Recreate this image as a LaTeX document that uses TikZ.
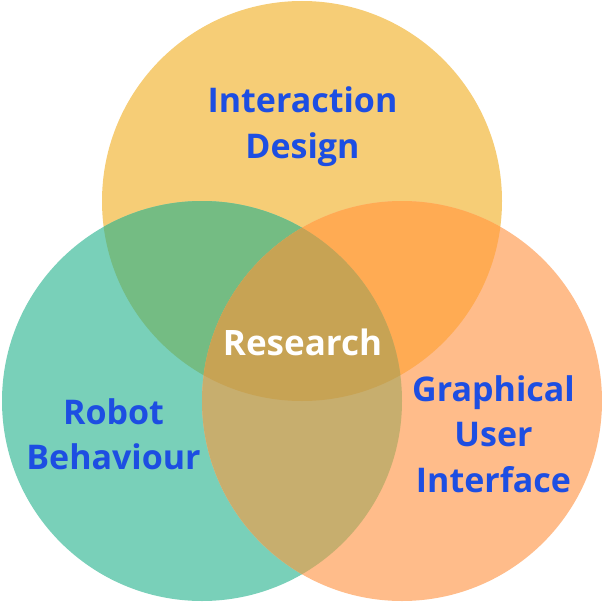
\documentclass[tikz,border=0pt]{standalone}
\usepackage{fontspec}
\setmainfont{Open Sans}
\definecolor{cy}{RGB}{246,205,118}
\definecolor{cg}{RGB}{121,208,185}
\definecolor{co}{RGB}{255,188,138}
\definecolor{cgo}{RGB}{116,188,131}
\definecolor{cyo}{RGB}{255,171,83}
\definecolor{cgro}{RGB}{199,174,110}
\definecolor{ccen}{RGB}{199,163,84}
\definecolor{lab}{RGB}{29,78,226}
\tikzset{lbl/.style={font=\bfseries\fontsize{34pt}{45.5pt}\selectfont,text=lab,align=center,inner sep=0pt}}
\begin{document}
\begin{tikzpicture}[x=1pt,y=-1pt]
\useasboundingbox (0,0) rectangle (602,602);
\path[fill=cy] (302,201) circle (200);
\path[fill=cg] (202,401) circle (200);
\path[fill=co] (402,401) circle (200);
\begin{scope}\clip (302,201) circle (200); \path[fill=cgo] (202,401) circle (200);\end{scope}
\begin{scope}\clip (302,201) circle (200); \path[fill=cyo] (402,401) circle (200);\end{scope}
\begin{scope}\clip (202,401) circle (200); \path[fill=cgro] (402,401) circle (200);\end{scope}
\begin{scope}\clip (302,201) circle (200); \clip (202,401) circle (200); \path[fill=ccen] (402,401) circle (200);\end{scope}
\node[lbl] (a) at (302.5,126.5) {Interaction\\Design};
\node[lbl] (b) at (113.5,434) {Robot\\Behaviour};
\node[lbl] (c) at (493.5,434) {Graphical\\User\\Interface};
\node[lbl,text=white,font=\bfseries\fontsize{35pt}{45.5pt}\selectfont] (d) at (302.5,342) {Research};
\end{tikzpicture}
\end{document}
